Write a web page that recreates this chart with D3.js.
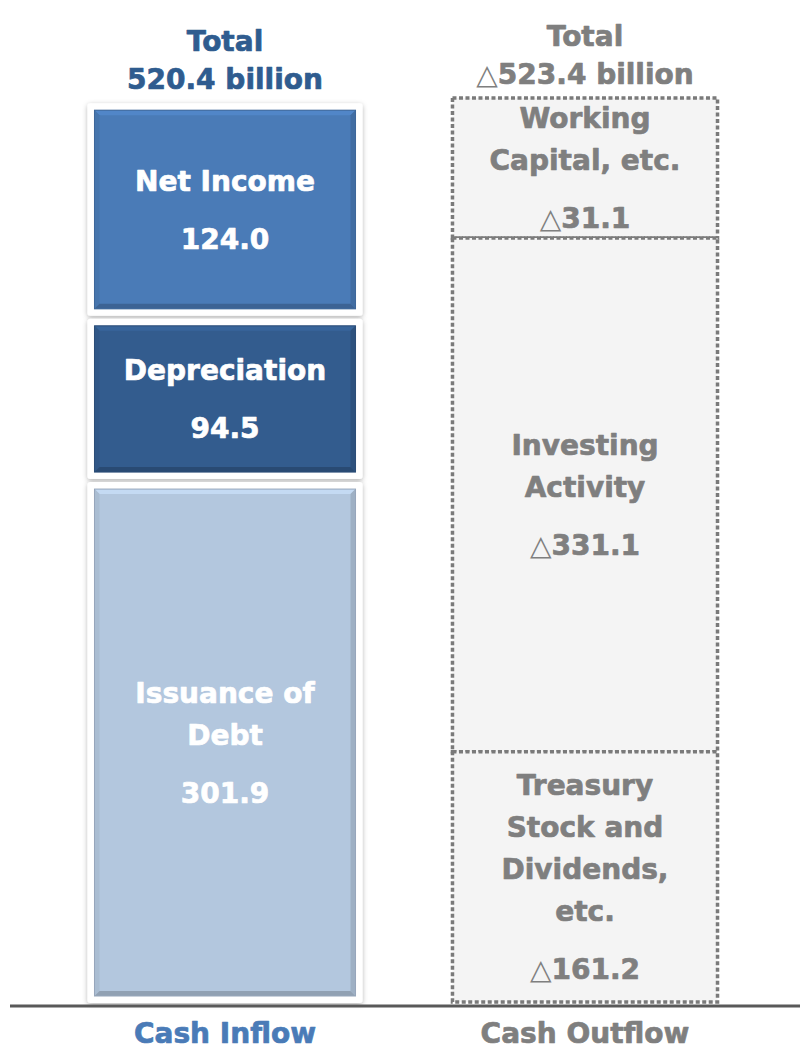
<!DOCTYPE html>
<html lang="en">
<head>
    <meta charset="UTF-8">
    <title>Cash Inflow / Cash Outflow</title>
    <script src="https://d3js.org/d3.v7.min.js"></script>
    <style>
        body {
            margin: 0;
            background: #fff;
            font-family: "DejaVu Sans", Verdana, sans-serif;
            overflow: hidden;
        }

        svg {
            display: block;
        }

        text {
            font-weight: bold;
            font-size: 28px;
            text-anchor: middle;
            stroke-width: 0.7px;
            stroke-linejoin: round;
        }

        .tri {
            font-weight: normal;
            stroke-width: 0;
        }
    </style>
</head>
<body>
    <svg id="chart"></svg>

    <script>
        // Datos (de arriba hacia abajo en cada columna)
        const columns = ["Cash Inflow", "Cash Outflow"];
        const totals = [520.4, 523.4];

        const inflowNames = [["Net Income"], ["Depreciation"], ["Issuance of", "Debt"]];
        const inflowValues = [124.0, 94.5, 301.9];

        const outflowNames = [["Working", "Capital, etc."], ["Investing", "Activity"],
                              ["Treasury", "Stock and", "Dividends,", "etc."]];
        const outflowValues = [31.1, 331.1, 161.2];

        const inflowColors = ["#4a7bb7", "#335c8e", "#b3c7de"];

        const width = 802, height = 1051;
        const base = 1002;
        const minBlock = 140; // altura mínima para que quepa el texto

        const svg = d3.select("#chart")
            .attr("width", width)
            .attr("height", height);

        const defs = svg.append("defs");
        const shadow = defs.append("filter").attr("id", "shadow")
            .attr("x", "-10%").attr("y", "-10%").attr("width", "120%").attr("height", "120%");
        shadow.append("feDropShadow")
            .attr("dx", 0).attr("dy", 1.5)
            .attr("stdDeviation", 2.5)
            .attr("flood-color", "#000")
            .attr("flood-opacity", 0.3);

        const x = d3.scaleBand()
            .domain(columns)
            .range([45, 765])
            .paddingInner(0.236)
            .paddingOuter(0.118);

        const y = d3.scaleLinear()
            .domain([0, d3.max(totals)])
            .range([base, 98]);

        // Reparte la altura de la columna entre los bloques (con altura mínima)
        function layout(values, total) {
            const full = base - y(total);
            const k = full / total;
            let fixed = 0, rest = 0;
            values.forEach(v => {
                if (v * k < minBlock) fixed += minBlock;
                else rest += v;
            });
            const k2 = (full - fixed) / rest;
            const hs = values.map(v => v * k < minBlock ? minBlock : v * k2);
            let top = y(total);
            return hs.map(h => {
                const b = { y0: top, y1: top + h };
                top += h;
                return b;
            });
        }

        function writeLabel(g, names, value, cx, cy, prefix, color) {
            const n = names.length;
            const lh = 42, gap = 58;
            const b1 = cy - ((n - 1) * lh + gap - 20) / 2;
            const t = g.append("text").attr("fill", color).attr("stroke", color);
            names.forEach((s, i) => {
                t.append("tspan").attr("x", cx).attr("y", b1 + i * lh).text(s);
            });
            const v = g.append("text").attr("fill", color).attr("stroke", color)
                .attr("x", cx).attr("y", b1 + (n - 1) * lh + gap);
            if (prefix) v.append("tspan").attr("class", "tri").text("△");
            v.append("tspan").text(d3.format(".1f")(value));
        }

        // ---- Columna de entradas ----
        const inBlocks = layout(inflowValues, totals[0]);
        const x0 = x(columns[0]), bw = x.bandwidth();
        const pad = 7, bev = 5;

        inBlocks.forEach((b, i) => {
            const g = svg.append("g");
            const top = b.y0 + (i === 0 ? 0 : 1.5);
            const bot = b.y1 - (i === inBlocks.length - 1 ? -1 : 1.5);
            g.append("rect")
                .attr("x", x0).attr("y", top)
                .attr("width", bw).attr("height", bot - top)
                .attr("rx", 3)
                .attr("fill", "#fff")
                .attr("filter", "url(#shadow)");

            const ix0 = x0 + pad, ix1 = x0 + bw - pad;
            const iy0 = top + pad, iy1 = bot - pad;
            const c = inflowColors[i];
            g.append("rect")
                .attr("x", ix0).attr("y", iy0)
                .attr("width", ix1 - ix0).attr("height", iy1 - iy0)
                .attr("fill", c);

            // biselado
            const edges = [
                { p: [[ix0, iy0], [ix1, iy0], [ix1 - bev, iy0 + bev], [ix0 + bev, iy0 + bev]], f: d3.color(c).brighter(0.25) },
                { p: [[ix0, iy0], [ix0 + bev, iy0 + bev], [ix0 + bev, iy1 - bev], [ix0, iy1]], f: d3.color(c).darker(0.15) },
                { p: [[ix1, iy0], [ix1, iy1], [ix1 - bev, iy1 - bev], [ix1 - bev, iy0 + bev]], f: d3.color(c).darker(0.35) },
                { p: [[ix0, iy1], [ix1, iy1], [ix1 - bev, iy1 - bev], [ix0 + bev, iy1 - bev]], f: d3.color(c).darker(0.6) }
            ];
            g.selectAll("polygon").data(edges).enter().append("polygon")
                .attr("points", d => d.p.map(q => q.join(",")).join(" "))
                .attr("fill", d => d.f);
            g.append("rect")
                .attr("x", ix0).attr("y", iy0)
                .attr("width", ix1 - ix0).attr("height", iy1 - iy0)
                .attr("fill", "none")
                .attr("stroke", d3.color(c).darker(0.5))
                .attr("stroke-width", 1);

            writeLabel(g, inflowNames[i], inflowValues[i], x0 + bw / 2, (iy0 + iy1) / 2, false, "#fff");
        });

        // ---- Columna de salidas ----
        const outBlocks = layout(outflowValues, totals[1]);
        const x1 = x(columns[1]) + 5, bw1 = bw - 10;

        outBlocks.forEach((b, i) => {
            const g = svg.append("g");
            g.append("rect")
                .attr("x", x1).attr("y", b.y0)
                .attr("width", bw1).attr("height", b.y1 - b.y0)
                .attr("fill", "#f4f4f4")
                .attr("stroke", "#7a7a7a")
                .attr("stroke-width", 3.5)
                .attr("stroke-dasharray", "4 2.5");
            writeLabel(g, outflowNames[i], outflowValues[i], x1 + bw1 / 2, (b.y0 + b.y1) / 2, true, "#7f7f7f");
        });

        // ---- Línea base ----
        svg.append("line")
            .attr("x1", 10).attr("x2", 800)
            .attr("y1", base + 4).attr("y2", base + 4)
            .attr("stroke", "#595959")
            .attr("stroke-width", 3);

        // ---- Títulos (totales) ----
        const titleColors = ["#2f5c8f", "#7f7f7f"];
        columns.forEach((col, i) => {
            const cx = x(col) + bw / 2;
            const top = y(totals[i]);
            svg.append("text")
                .attr("x", cx).attr("y", top - 52)
                .attr("fill", titleColors[i]).attr("stroke", titleColors[i])
                .text("Total");
            const t = svg.append("text")
                .attr("x", cx).attr("y", top - 14)
                .attr("fill", titleColors[i]).attr("stroke", titleColors[i]);
            if (i === 1) t.append("tspan").attr("class", "tri").text("△");
            t.append("tspan").text(d3.format(".1f")(totals[i]) + " billion");
        });

        // ---- Etiquetas de categoría ----
        const catColors = ["#4a7bb7", "#7f7f7f"];
        svg.selectAll(".cat")
            .data(columns)
            .enter().append("text")
            .attr("class", "cat")
            .attr("x", d => x(d) + bw / 2)
            .attr("y", 1043)
            .attr("fill", (d, i) => catColors[i])
            .attr("stroke", (d, i) => catColors[i])
            .text(d => d);
    </script>
</body>
</html>
